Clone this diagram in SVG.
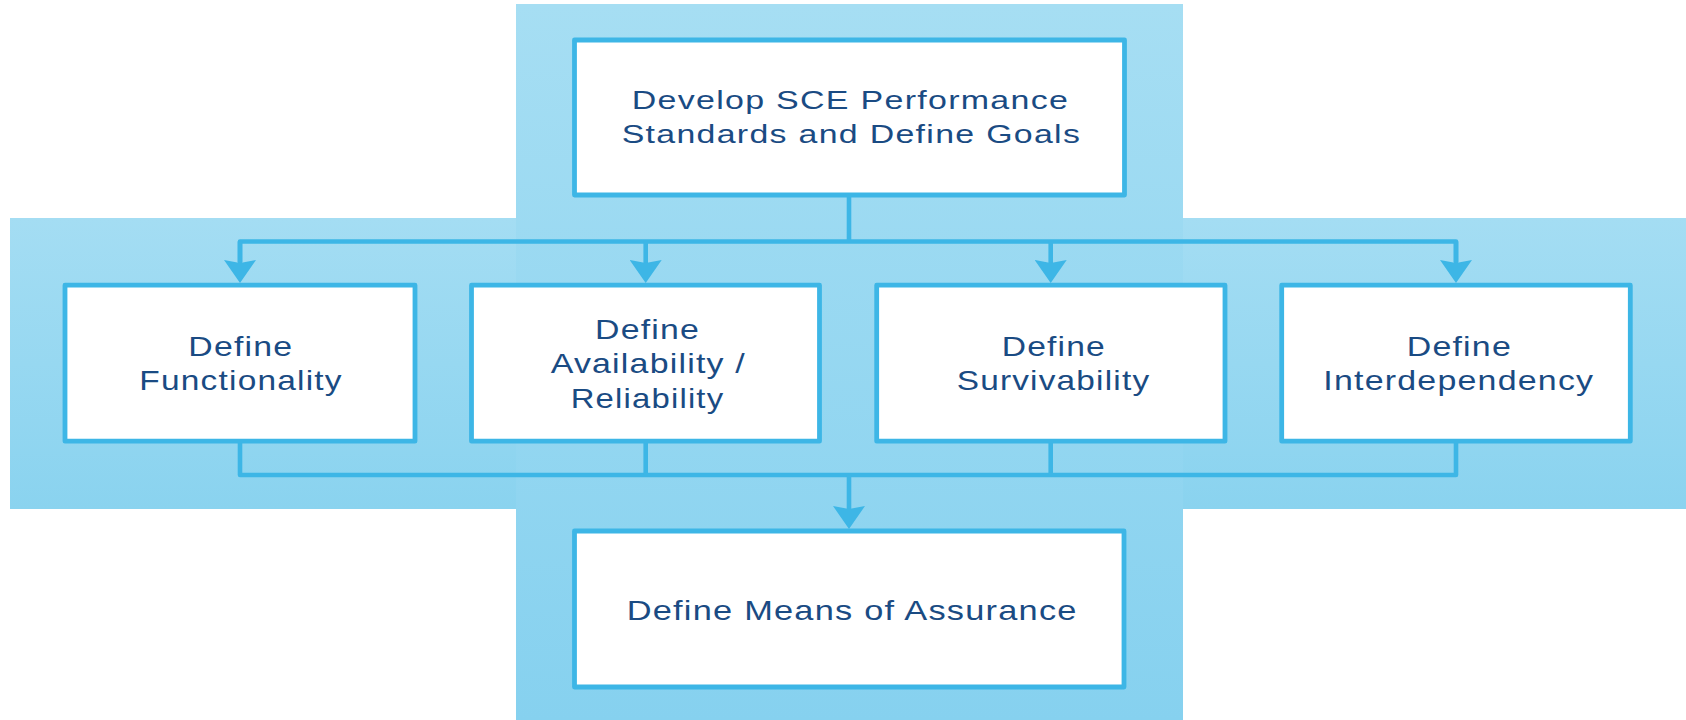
<svg xmlns="http://www.w3.org/2000/svg" width="1686" height="720" viewBox="0 0 1686 720">
  <defs>
    <linearGradient id="gBand" gradientUnits="userSpaceOnUse" x1="0" y1="218" x2="0" y2="509">
      <stop offset="0" stop-color="#A4DDF3"/>
      <stop offset="1" stop-color="#8AD3EF"/>
    </linearGradient>
    <linearGradient id="gCol" gradientUnits="userSpaceOnUse" x1="0" y1="4" x2="0" y2="720">
      <stop offset="0" stop-color="#A6DEF3"/>
      <stop offset="1" stop-color="#86D1EF"/>
    </linearGradient>
    <marker id="arrow" viewBox="0 0 23 32" refX="3" refY="16" markerWidth="23" markerHeight="32" markerUnits="userSpaceOnUse" orient="auto">
      <path d="M0,0 L23,16 L0,32 L3,16 Z" fill="#3DB6E6"/>
    </marker>
  </defs>
  <style>
    .box { fill: #FFFFFF; stroke: #3DB6E6; stroke-width: 4.8; stroke-linejoin: round; }
    .conn { fill: none; stroke: #3DB6E6; stroke-width: 4.6; stroke-linejoin: round; }
    .lbl { font-family: "Liberation Sans", Arial, sans-serif; fill: #1A4B83; font-size: 28px; letter-spacing: 1px; }
    .lbl-top { font-size: 26px; }
  </style>

  <g id="background">
    <rect x="10" y="218" width="1676" height="291" fill="url(#gBand)"/>
    <rect x="516" y="4" width="667" height="716" fill="url(#gCol)"/>
  </g>

  <g id="connectors">
    <path class="conn" d="M849,197 V241.5"/>
    <path class="conn" d="M240,262 V241.5 H1456 V262"/>
    <path class="conn" d="M240,241.5 V263" marker-end="url(#arrow)"/>
    <path class="conn" d="M645.7,241.5 V263" marker-end="url(#arrow)"/>
    <path class="conn" d="M1050.7,241.5 V263" marker-end="url(#arrow)"/>
    <path class="conn" d="M1456,241.5 V263" marker-end="url(#arrow)"/>
    <path class="conn" d="M240,441 V475 H1456 V441"/>
    <path class="conn" d="M645.7,441 V475"/>
    <path class="conn" d="M1050.7,441 V475"/>
    <path class="conn" d="M849,475 V509" marker-end="url(#arrow)"/>
  </g>

  <g id="node-goals">
    <rect class="box" x="574.5" y="40" width="550" height="155"/>
    <text class="lbl lbl-top" x="631.7" y="109.3" textLength="437.5" lengthAdjust="spacingAndGlyphs">Develop SCE Performance</text>
    <text class="lbl lbl-top" x="621.7" y="143.3" textLength="459.5" lengthAdjust="spacingAndGlyphs">Standards and Define Goals</text>
  </g>

  <g id="node-functionality">
    <rect class="box" x="65" y="285.2" width="350" height="156"/>
    <text class="lbl" x="188.3" y="356" textLength="105" lengthAdjust="spacingAndGlyphs">Define</text>
    <text class="lbl" x="139.3" y="389.5" textLength="203.5" lengthAdjust="spacingAndGlyphs">Functionality</text>
  </g>

  <g id="node-availability">
    <rect class="box" x="471.5" y="285.2" width="348" height="156"/>
    <text class="lbl" x="595" y="339" textLength="105" lengthAdjust="spacingAndGlyphs">Define</text>
    <text class="lbl" x="550.7" y="373.3" textLength="195.3" lengthAdjust="spacingAndGlyphs">Availability /</text>
    <text class="lbl" x="570.7" y="407.7" textLength="153.6" lengthAdjust="spacingAndGlyphs">Reliability</text>
  </g>

  <g id="node-survivability">
    <rect class="box" x="876.7" y="285.2" width="348.3" height="156"/>
    <text class="lbl" x="1001.7" y="356" textLength="104.3" lengthAdjust="spacingAndGlyphs">Define</text>
    <text class="lbl" x="956.7" y="390" textLength="193.6" lengthAdjust="spacingAndGlyphs">Survivability</text>
  </g>

  <g id="node-interdependency">
    <rect class="box" x="1281.7" y="285.2" width="348.6" height="156"/>
    <text class="lbl" x="1406.7" y="356" textLength="105.3" lengthAdjust="spacingAndGlyphs">Define</text>
    <text class="lbl" x="1323.3" y="390" textLength="271" lengthAdjust="spacingAndGlyphs">Interdependency</text>
  </g>

  <g id="node-assurance">
    <rect class="box" x="574.5" y="531" width="549.5" height="156"/>
    <text class="lbl" x="626.7" y="620" textLength="451" lengthAdjust="spacingAndGlyphs">Define Means of Assurance</text>
  </g>
</svg>
